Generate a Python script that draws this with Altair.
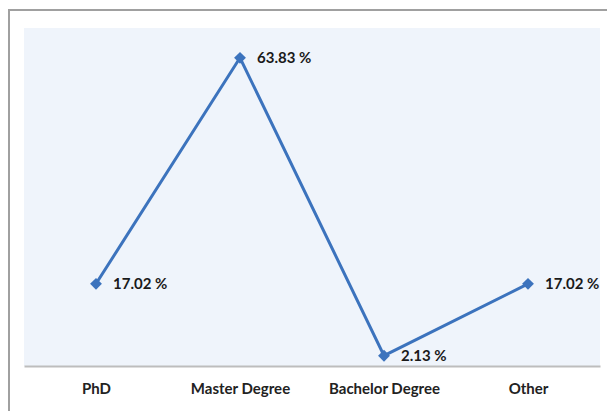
import altair as alt
import pandas as pd

categories = ["PhD", "Master Degree", "Bachelor Degree", "Other"]
values = [17.02, 63.83, 2.13, 17.02]
labels = ["17.02 %", "63.83 %", "2.13 %", "17.02 %"]

df = pd.DataFrame({"cat": categories, "val": values, "lab": labels})

W, H = 576, 338
blue = "#3c73bd"

x = alt.X("cat:N", sort=categories, title=None,
          scale=alt.Scale(paddingInner=0, paddingOuter=0.5),
          axis=alt.Axis(labelAngle=0, labelFont="Lato", labelFontSize=15,
                        labelFontWeight="bold", labelColor="#222222",
                        labelPadding=15, ticks=False, domainColor="#bdbdbd",
                        domainWidth=2, grid=False))
y = alt.Y("val:Q", title=None, scale=alt.Scale(domain=[0, 70], nice=False),
          axis=None)

border = alt.Chart(df).mark_rect(fill=None, stroke="#a0a0a0", strokeWidth=2).encode(
    x=alt.value(-15), x2=alt.value(620), y=alt.value(-18), y2=alt.value(420)
)

line = alt.Chart(df).mark_line(color=blue, strokeWidth=3).encode(x=x, y=y)
pts = alt.Chart(df).mark_point(shape="diamond", filled=True, color=blue,
                               size=140, opacity=1).encode(x=x, y=y)
txt = alt.Chart(df).mark_text(align="left", baseline="middle", dx=17,
                              font="Lato", fontSize=15, fontWeight="bold",
                              color="#1a1a1a").encode(x=x, y=y, text="lab:N")

chart = alt.layer(border, line, pts, txt).properties(
    width=W, height=H,
    autosize=alt.AutoSizeParams(type="none"),
    padding={"left": 16, "top": 20, "right": 7, "bottom": 45},
).configure_view(fill="#eff4fb", stroke=None)

chart.save("out.html", embed_options={"renderer": "svg", "actions": False})
